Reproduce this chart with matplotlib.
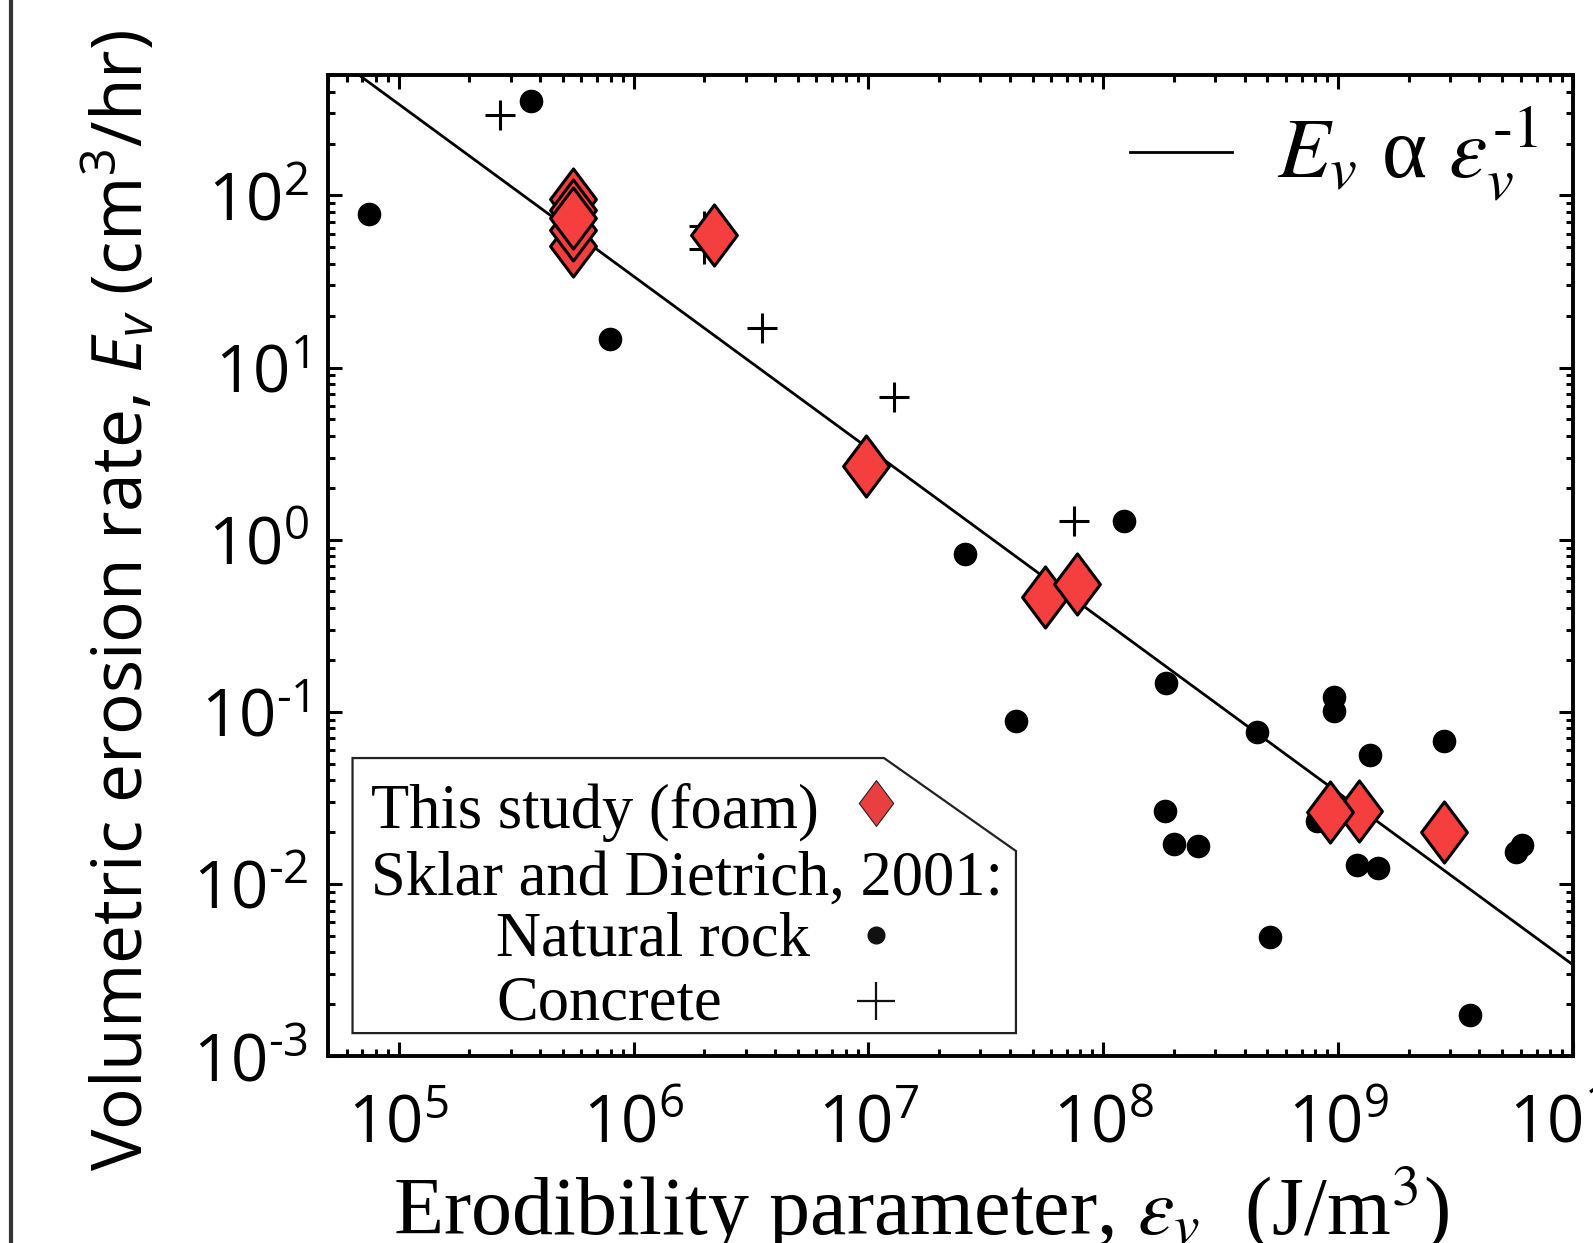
import numpy as np
import matplotlib
matplotlib.use('Agg')
import matplotlib.pyplot as plt
from matplotlib.path import Path
from matplotlib.patches import Polygon
from matplotlib.lines import Line2D
from matplotlib.ticker import FuncFormatter, LogLocator, NullFormatter

# This study (foam)
foam_erod = [5.52e5, 5.52e5, 5.52e5, 5.52e5, 5.52e5, 2.21e6, 9.77e6,
             5.63e7, 7.74e7, 1.23e9, 9.25e8, 2.83e9]
foam_rate = [95, 82, 51, 63, 73.5, 59, 2.69,
             0.465, 0.555, 0.0264, 0.026, 0.020]

# Sklar and Dietrich, 2001: natural rock
rock_erod = [7.45e4, 3.66e5, 7.91e5, 2.57e7, 1.22e8, 4.27e7, 1.85e8, 4.51e8,
             9.62e8, 9.62e8, 1.37e9, 2.83e9, 1.84e8, 2.01e8, 2.53e8, 8.1e8,
             1.20e9, 1.48e9, 5.70e9, 6.05e9, 5.14e8, 3.65e9]
rock_rate = [77.6, 353, 14.6, 0.826, 1.28, 0.0887, 0.147, 0.0759,
             0.1216, 0.1004, 0.0562, 0.0678, 0.0264, 0.0170, 0.0166, 0.0232,
             0.0129, 0.0123, 0.0154, 0.0169, 0.0049, 0.00173]

# Sklar and Dietrich, 2001: concrete
conc_erod = [2.71e5, 1.99e6, 1.99e6, 3.54e6, 1.29e7, 7.48e7]
conc_rate = [293, 66, 49, 16.9, 6.7, 1.29]

# E_v = k / eps_v
fit_k = 3.39e7

serif = 'Liberation Serif'
sans = 'Open Sans'
plt.rcParams['mathtext.fontset'] = 'custom'
plt.rcParams['mathtext.rm'] = sans
plt.rcParams['mathtext.it'] = sans + ':italic'

red = '#F53E3E'
diamond = Path([(0, 1), (0.75, 0), (0, -1), (-0.75, 0), (0, 1)],
               [Path.MOVETO, Path.LINETO, Path.LINETO, Path.LINETO, Path.CLOSEPOLY])

fig = plt.figure(figsize=(15.93, 12.43), dpi=100)
ax = fig.add_axes([0.2059, 0.1504, 0.7815, 0.7892])
ax.set_xscale('log')
ax.set_yscale('log')
ax.set_xlim(5e4, 1e10)
ax.set_ylim(1e-3, 500)

x_fit = np.array([4e4, 2e10])
ax.plot(x_fit, fit_k / x_fit, color='black', lw=2.0, zorder=2)
ax.plot(rock_erod, rock_rate, 'o', color='black', ms=16, mec='black', zorder=3)
ax.plot(conc_erod, conc_rate, '+', color='black', ms=22, mew=2.2, zorder=3)
for x, y in zip(foam_erod, foam_rate):
    ax.plot([x], [y], marker=diamond, ms=44, mfc=red, mec='black', mew=2.2,
            ls='none', zorder=4)

# ticks
for a in (ax.xaxis, ax.yaxis):
    a.set_major_locator(LogLocator(base=10, numticks=20))
    a.set_minor_locator(LogLocator(base=10, subs=np.arange(2, 10), numticks=20))
    a.set_minor_formatter(NullFormatter())


def dec_label(v, pos):
    e = int(round(np.log10(v)))
    if e < 0:
        return r'$\mathregular{10^{\text{-}%d}}$' % (-e)
    return r'$\mathregular{10^{%d}}$' % e


fmt = FuncFormatter(dec_label)
ax.xaxis.set_major_formatter(fmt)
ax.yaxis.set_major_formatter(fmt)
ax.tick_params(which='both', direction='in', top=True, right=True, width=2.2)
ax.tick_params(which='major', length=10, labelsize=47, pad=14)
ax.tick_params(which='minor', length=5)
ax.tick_params(axis='x', which='major', pad=26)
for lab in ax.get_xticklabels() + ax.get_yticklabels():
    lab.set_fontfamily(sans)
for s in ax.spines.values():
    s.set_linewidth(2.8)

# axis labels
fig.text(0.076, 0.517, r'Volumetric erosion rate, $E_v$ (cm$^3$/hr)',
         rotation=90, ha='center', va='center', fontsize=50, family=sans)
fig.text(0.578, 0.007, r'Erodibility parameter, $\varepsilon_v$  (J/m$^3$)',
         ha='center', va='baseline', fontsize=59, family=serif,
         math_fontfamily='stix')

# fit legend (top right)
ax.plot([0.644, 0.726], [0.9215, 0.9215], color='black', lw=2.0,
        transform=ax.transAxes, clip_on=False)
ax.text(0.7625, 0.895, r'$E_v$ α $\varepsilon_v^{\text{-1}}$',
        transform=ax.transAxes, fontsize=62, family=serif,
        math_fontfamily='stix', va='baseline', ha='left')

# data legend box with a cut corner
box = Polygon([(0.0197, 0.0234), (0.0197, 0.3038), (0.4466, 0.3038),
               (0.5526, 0.209), (0.5526, 0.0234)], closed=True,
              transform=ax.transAxes, facecolor='white', edgecolor='#222222',
              lw=1.6, zorder=6)
ax.add_patch(box)
leg_fs = 45
ax.text(0.0345, 0.2324, 'This study (foam)', transform=ax.transAxes,
        fontsize=leg_fs, family=serif, va='baseline', zorder=7)
ax.text(0.0345, 0.165, 'Sklar and Dietrich, 2001:', transform=ax.transAxes,
        fontsize=leg_fs, family=serif, va='baseline', zorder=7)
ax.text(0.135, 0.103, 'Natural rock', transform=ax.transAxes,
        fontsize=leg_fs, family=serif, va='baseline', zorder=7)
ax.text(0.135, 0.0377, 'Concrete', transform=ax.transAxes,
        fontsize=leg_fs, family=serif, va='baseline', zorder=7)
ax.plot([0.440], [0.258], marker=diamond, ms=33, mfc='#E84040', mec='#222222',
        mew=0.8, transform=ax.transAxes, zorder=7, clip_on=False)
ax.plot([0.440], [0.123], 'o', ms=12, color='#111111',
        transform=ax.transAxes, zorder=7, clip_on=False)
ax.plot([0.440], [0.056], '+', ms=27, mew=1.6, color='#111111',
        transform=ax.transAxes, zorder=7, clip_on=False)

# left border line of the original panel
fig.add_artist(Line2D([0.0066, 0.0066], [0, 1], color='#333333', lw=3,
                      transform=fig.transFigure))

fig.savefig('out.png', dpi=100, facecolor='white')
